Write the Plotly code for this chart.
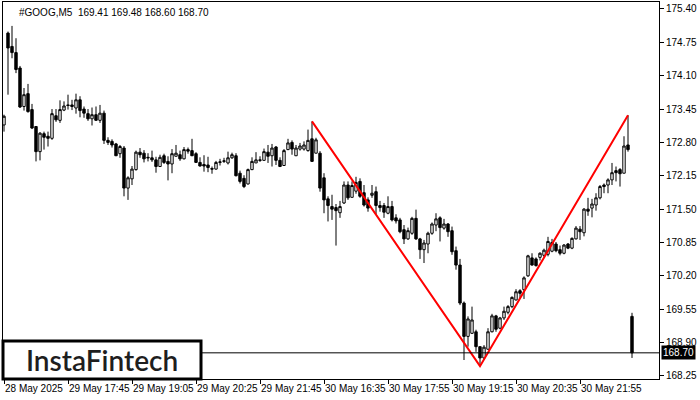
import plotly.graph_objects as go
from datetime import datetime, timedelta

symbol_title = "#GOOG,M5  169.41 169.48 168.60 168.70"

# bar times (M5): last bar of 28 May, then the 29 May and 30 May sessions
def session(day, start, n):
    t0 = datetime(2025, 5, day, *start)
    return [(t0 + timedelta(minutes=5 * k)).strftime("%d May %H:%M") for k in range(n)]

times = ["28 May 22:55"] + session(29, (16, 30), 78) + session(30, (16, 30), 79)

opens = [173.14, 174.93, 174.67, 174.55, 174.25, 173.50, 173.75, 173.44, 173.11, 172.62,
         172.97, 172.92, 172.88, 173.32, 173.23, 173.43, 173.53, 173.53, 173.47, 173.63,
         173.45, 173.36, 173.26, 173.34, 173.23, 173.37, 172.84, 172.82, 172.77, 172.58,
         172.69, 171.91, 172.09, 172.27, 172.61, 172.59, 172.51, 172.50, 172.46, 172.33,
         172.54, 172.43, 172.38, 172.53, 172.56, 172.48, 172.66, 172.64, 172.58, 172.41,
         172.37, 172.36, 172.29, 172.28, 172.41, 172.43, 172.40, 172.50, 172.54, 172.20,
         172.10, 171.99, 172.27, 172.40, 172.46, 172.45, 172.61, 172.54, 172.71, 172.45,
         172.35, 172.66, 172.80, 172.54, 172.67, 172.67, 172.64, 172.87, 172.59, 172.59,
         172.11, 171.70, 171.55, 171.53, 171.43, 171.62, 171.97, 171.73, 171.85, 172.04,
         171.82, 171.68, 171.77, 171.84, 171.57, 171.57, 171.42, 171.55, 171.33, 171.29,
         171.10, 170.92, 171.03, 171.32, 170.92, 170.71, 170.82, 171.03, 171.19, 171.33,
         171.13, 171.21, 171.08, 170.69, 170.41, 169.67, 169.02, 169.08, 169.11, 168.82,
         168.60, 168.77, 169.11, 169.42, 169.18, 169.38, 169.49, 169.60, 169.73, 169.91,
         169.93, 170.20, 170.55, 170.53, 170.56, 170.60, 170.62, 170.68, 170.82, 170.71,
         170.64, 170.82, 170.74, 170.92, 171.11, 171.04, 171.50, 171.52, 171.58, 171.72,
         171.97, 171.97, 172.07, 172.25, 172.27, 172.20, 172.75, 169.41]
highs = [173.34, 174.96, 175.07, 174.83, 174.29, 173.86, 173.94, 173.55, 173.12, 173.00,
         173.01, 173.01, 173.45, 173.45, 173.62, 173.60, 173.73, 173.63, 173.75, 173.70,
         173.50, 173.45, 173.48, 173.50, 173.53, 173.42, 172.90, 172.86, 172.79, 172.75,
         172.73, 172.14, 172.34, 172.64, 172.69, 172.65, 172.59, 172.64, 172.52, 172.56,
         172.58, 172.53, 172.67, 172.75, 172.64, 172.71, 172.70, 172.87, 172.61, 172.51,
         172.55, 172.52, 172.33, 172.44, 172.48, 172.50, 172.62, 172.60, 172.59, 172.25,
         172.16, 172.29, 172.51, 172.61, 172.53, 172.68, 172.75, 172.77, 172.73, 172.51,
         172.67, 172.87, 172.84, 172.75, 172.79, 172.82, 173.05, 173.21, 172.89, 172.63,
         172.20, 171.75, 171.78, 171.60, 171.66, 172.04, 172.04, 172.04, 172.13, 172.10,
         171.97, 171.73, 171.97, 171.94, 171.66, 171.62, 171.75, 171.66, 171.40, 171.33,
         171.19, 171.14, 171.35, 171.49, 170.94, 170.90, 171.06, 171.24, 171.42, 171.36,
         171.31, 171.23, 171.16, 170.77, 170.53, 169.70, 169.41, 169.60, 169.15, 168.82,
         168.85, 169.18, 169.46, 169.44, 169.40, 169.60, 169.63, 169.80, 169.94, 169.94,
         170.19, 170.61, 170.64, 170.56, 170.66, 170.73, 170.96, 170.92, 170.86, 170.79,
         170.82, 170.84, 170.95, 171.17, 171.17, 171.52, 171.72, 171.70, 171.81, 171.97,
         172.00, 172.10, 172.40, 172.33, 172.30, 172.92, 173.33, 169.48]
lows = [173.01, 173.73, 174.44, 174.15, 173.47, 173.42, 173.38, 173.06, 172.43, 172.45,
        172.66, 172.72, 172.85, 173.20, 173.18, 173.41, 173.44, 173.43, 173.36, 173.29,
        173.28, 173.22, 173.13, 173.22, 173.18, 172.77, 172.75, 172.70, 172.54, 172.50,
        171.75, 171.68, 171.97, 172.25, 172.50, 172.41, 172.43, 172.42, 172.21, 172.33,
        172.38, 172.06, 172.20, 172.53, 172.44, 172.47, 172.58, 172.54, 172.40, 172.33,
        172.23, 172.22, 172.19, 172.27, 172.35, 172.40, 172.37, 172.48, 172.14, 172.00,
        171.91, 171.98, 172.26, 172.40, 172.42, 172.45, 172.40, 172.33, 172.36, 172.32,
        172.35, 172.65, 172.56, 172.54, 172.64, 172.64, 172.62, 172.43, 172.59, 171.84,
        171.42, 171.26, 171.29, 170.79, 171.33, 171.60, 171.68, 171.73, 171.80, 171.72,
        171.55, 171.45, 171.72, 171.40, 171.45, 171.33, 171.40, 171.26, 171.22, 171.03,
        170.82, 170.90, 171.00, 170.90, 170.53, 170.45, 170.64, 171.00, 171.07, 170.87,
        171.10, 170.96, 170.61, 170.32, 169.63, 168.56, 168.82, 169.07, 168.72, 168.44,
        168.56, 168.76, 169.10, 169.11, 169.16, 169.34, 169.45, 169.57, 169.72, 169.75,
        169.75, 170.18, 170.40, 170.38, 170.50, 170.55, 170.58, 170.66, 170.66, 170.60,
        170.62, 170.72, 170.72, 170.91, 170.90, 170.97, 171.37, 171.34, 171.47, 171.69,
        171.81, 171.81, 171.97, 172.04, 171.94, 172.20, 172.62, 168.60]
closes = [173.31, 174.64, 174.55, 174.22, 173.49, 173.73, 173.40, 173.08, 172.62, 172.98,
          172.90, 172.88, 173.36, 173.24, 173.44, 173.51, 173.52, 173.50, 173.63, 173.42,
          173.37, 173.26, 173.34, 173.23, 173.37, 172.84, 172.80, 172.75, 172.54, 172.72,
          171.91, 172.11, 172.28, 172.61, 172.56, 172.48, 172.50, 172.46, 172.33, 172.51,
          172.41, 172.38, 172.58, 172.59, 172.48, 172.66, 172.63, 172.54, 172.41, 172.34,
          172.34, 172.31, 172.28, 172.41, 172.42, 172.44, 172.50, 172.56, 172.15, 172.04,
          171.94, 172.27, 172.43, 172.46, 172.45, 172.62, 172.53, 172.69, 172.45, 172.33,
          172.64, 172.79, 172.67, 172.69, 172.73, 172.75, 172.84, 172.43, 172.85, 171.91,
          171.68, 171.57, 171.50, 171.47, 171.55, 171.97, 171.72, 171.96, 172.02, 171.75,
          171.58, 171.52, 171.81, 171.57, 171.53, 171.44, 171.55, 171.29, 171.27, 171.06,
          170.92, 171.08, 171.32, 170.92, 170.71, 170.84, 171.03, 171.21, 171.31, 171.14,
          171.21, 171.06, 170.67, 170.41, 169.67, 169.02, 169.36, 169.34, 168.82, 168.60,
          168.81, 169.11, 169.42, 169.16, 169.38, 169.51, 169.60, 169.78, 169.89, 169.86,
          170.16, 170.59, 170.41, 170.40, 170.64, 170.70, 170.87, 170.85, 170.69, 170.64,
          170.80, 170.74, 170.93, 171.13, 171.06, 171.50, 171.46, 171.60, 171.72, 171.94,
          171.94, 172.07, 172.21, 172.21, 172.19, 172.73, 172.66, 168.70]

# double-top pattern vertices (bar index, price)
pattern_idx = [77, 119, 156]
pattern_price = [173.21, 168.44, 173.33]

last_price = 168.70

x_tick_idx = [0, 16, 32, 48, 64, 80, 96, 112, 128, 144]
x_tick_text = ["28 May 2025", "29 May 17:45", "29 May 19:05", "29 May 20:25", "29 May 21:45",
               "30 May 16:35", "30 May 17:55", "30 May 19:15", "30 May 20:35", "30 May 21:55"]
y_ticks = [168.25, 168.90, 169.55, 170.20, 170.85, 171.50, 172.15, 172.80, 173.45, 174.10, 174.75, 175.40]

FONT = "Liberation Sans"

fig = go.Figure()
fig.add_trace(go.Candlestick(
    x=times, open=opens, high=highs, low=lows, close=closes,
    increasing=dict(line=dict(color="black", width=1), fillcolor="white"),
    decreasing=dict(line=dict(color="black", width=1), fillcolor="black"),
    whiskerwidth=0, showlegend=False, hoverinfo="skip",
))
fig.add_trace(go.Scatter(
    x=[times[i] for i in pattern_idx], y=pattern_price, mode="lines",
    line=dict(color="#ff0000", width=2), showlegend=False, hoverinfo="skip",
))

fig.add_shape(type="line", xref="paper", yref="y", x0=0, x1=1, y0=last_price, y1=last_price,
              line=dict(color="black", width=1), layer="above")
# logo box
fig.add_shape(type="rect", xref="paper", yref="paper", x0=0, x1=198 / 656, y0=0, y1=38 / 377,
              line=dict(color="black", width=3), fillcolor="white", layer="above")
fig.add_annotation(xref="paper", yref="paper", x=99 / 656, y=19 / 377, text="InstaFintech",
                   showarrow=False, font=dict(family="Lato", size=28, color="#1e1e1e", weight=600),
                   xanchor="center", yanchor="middle")
fig.add_annotation(xref="paper", yref="paper", x=0, y=1, xshift=14, yshift=-3,
                   text=symbol_title, showarrow=False, xanchor="left", yanchor="top",
                   font=dict(family=FONT, size=10, color="black"))
fig.add_annotation(xref="paper", yref="y", x=1, y=last_price, xshift=2, text=f"{last_price:.2f}",
                   showarrow=False, xanchor="left", yanchor="middle", bgcolor="black",
                   font=dict(family=FONT, size=10, color="white"), borderpad=1)

fig.update_layout(
    width=700, height=400, autosize=False,
    margin=dict(l=3, r=41, t=2, b=21, autoexpand=False),
    paper_bgcolor="white", plot_bgcolor="white",
    boxgap=0.15,
    xaxis=dict(
        type="category", range=[-0.25, 163.75], rangeslider=dict(visible=False),
        tickmode="array", tickvals=[times[i] for i in x_tick_idx], ticktext=x_tick_text,
        ticks="outside", ticklen=4, tickcolor="black", ticklabelposition="outside right",
        tickangle=0, automargin=False,
        showgrid=False, showline=True, linecolor="black", linewidth=1, mirror=True,
        tickfont=dict(family=FONT, size=10, color="black"), zeroline=False,
    ),
    yaxis=dict(
        side="right", range=[168.19, 175.536], tickmode="array", tickvals=y_ticks,
        ticktext=[f"{v:.2f}" for v in y_ticks], ticks="outside", ticklen=4, tickcolor="black",
        automargin=False,
        showgrid=False, showline=True, linecolor="black", linewidth=1, mirror=True,
        tickfont=dict(family=FONT, size=10, color="black"), zeroline=False,
    ),
)

fig.write_html("out.html", config={"displayModeBar": False, "staticPlot": True},
               post_script="document.body.style.margin='0';document.body.style.padding='0';")
